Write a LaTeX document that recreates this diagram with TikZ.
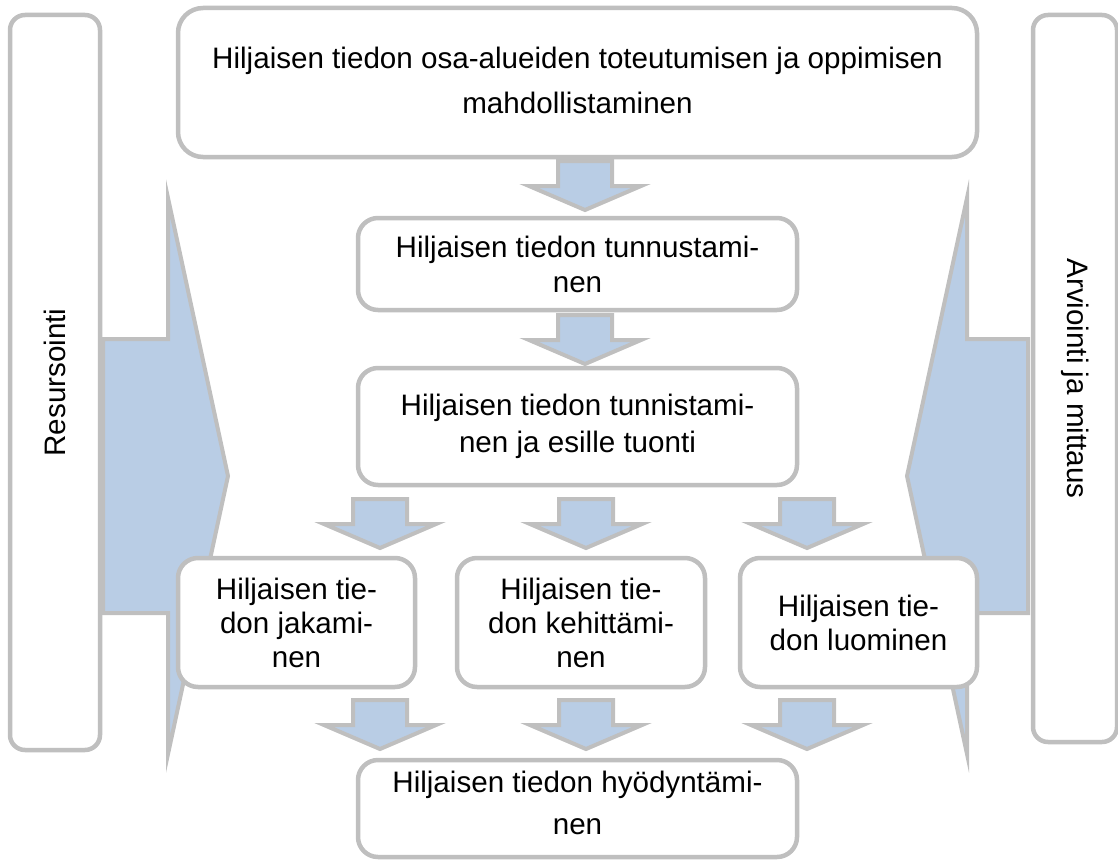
\documentclass[tikz,border=0pt]{standalone}
\usepackage{fontspec}
\setmainfont{Liberation Sans}
\definecolor{edgegray}{RGB}{191,191,191}
\definecolor{fillblue}{RGB}{185,205,229}
\begin{document}
\begin{tikzpicture}[x=1pt,y=-1pt,
  txt/.style={font=\fontsize{29.6}{34}\selectfont},
  box/.style={txt, draw=edgegray, line width=4.5pt, fill=white, rounded corners=20pt, align=center, inner sep=0pt},
  sidebox/.style={box, rounded corners=15pt},
  bigarrow/.style={draw=edgegray, line width=4pt, fill=fillblue, line join=miter},
  smallarrow/.style={draw=edgegray, line width=4pt, fill=fillblue, line join=miter},
  downarr/.pic={\draw[smallarrow] (-27,0) -- (27,0) -- (27,25) -- (56,25) -- (0,49) -- (-56,25) -- (-27,25) -- cycle;}
]
\useasboundingbox (0,0) rectangle (1118,859);

% big side arrows (behind)
\draw[bigarrow] (103,339) -- (168,339) -- (168,198) -- (228,476) -- (168,754) -- (168,613) -- (103,613) -- cycle;
\draw[bigarrow] (1028,339) -- (967,339) -- (967,198) -- (907,476) -- (967,754) -- (967,613) -- (1028,613) -- cycle;

% side boxes
\node[sidebox, minimum width=90pt, minimum height=735pt] (res) at (55,382.5) {};
\node[txt, rotate=90] (restxt) at (res.center) {Resursointi};
\node[sidebox, minimum width=84pt, minimum height=727pt] (arv) at (1075,378.5) {};
\node[txt, rotate=-90] (arvtxt) at (arv.center) {Arviointi ja mittaus};

% main boxes
\node[box, rounded corners=25pt, minimum width=799pt, minimum height=149pt] (top) at (577.5,82.5) {};
\node[txt, align=center, font=\fontsize{29.6}{45}\selectfont] (toptxt) at ([yshift=2pt]top.center)
  {Hiljaisen tiedon osa-alueiden toteutumisen ja oppimisen\\mahdollistaminen};
\node[box, font=\fontsize{29.6}{35}\selectfont, minimum width=439pt, minimum height=92pt] (tunnus) at (577.5,264)
  {Hiljaisen tiedon tunnustami-\\nen};
\node[box, font=\fontsize{29.6}{37}\selectfont, minimum width=439pt, minimum height=117pt] (tunnis) at (577.5,426.5)
  {Hiljaisen tiedon tunnistami-\\nen ja esille tuonti};
\node[box, minimum width=237pt, minimum height=129pt] (jak) at (296.5,622.5)
  {Hiljaisen tie-\\don jakami-\\nen};
\node[box, minimum width=248pt, minimum height=129pt] (keh) at (581,622.5)
  {Hiljaisen tie-\\don kehittämi-\\nen};
\node[box, minimum width=237pt, minimum height=129pt] (luo) at (858.5,622.5)
  {Hiljaisen tie-\\don luominen};
\node[box, minimum width=439pt, minimum height=97pt] (hyo) at (577.5,808.5) {};
\node[txt, align=center, font=\fontsize{29.6}{42}\selectfont] (hyotxt) at ([yshift=6pt]hyo.center)
  {Hiljaisen tiedon hyödyntämi-\\nen};

% small block arrows
\pic at (585,161) {downarr};
\pic at (585,315) {downarr};
\pic at (380,499) {downarr};
\pic at (586,499) {downarr};
\pic at (807,499) {downarr};
\pic at (380,700) {downarr};
\pic at (586,700) {downarr};
\pic at (807,700) {downarr};
\end{tikzpicture}
\end{document}
